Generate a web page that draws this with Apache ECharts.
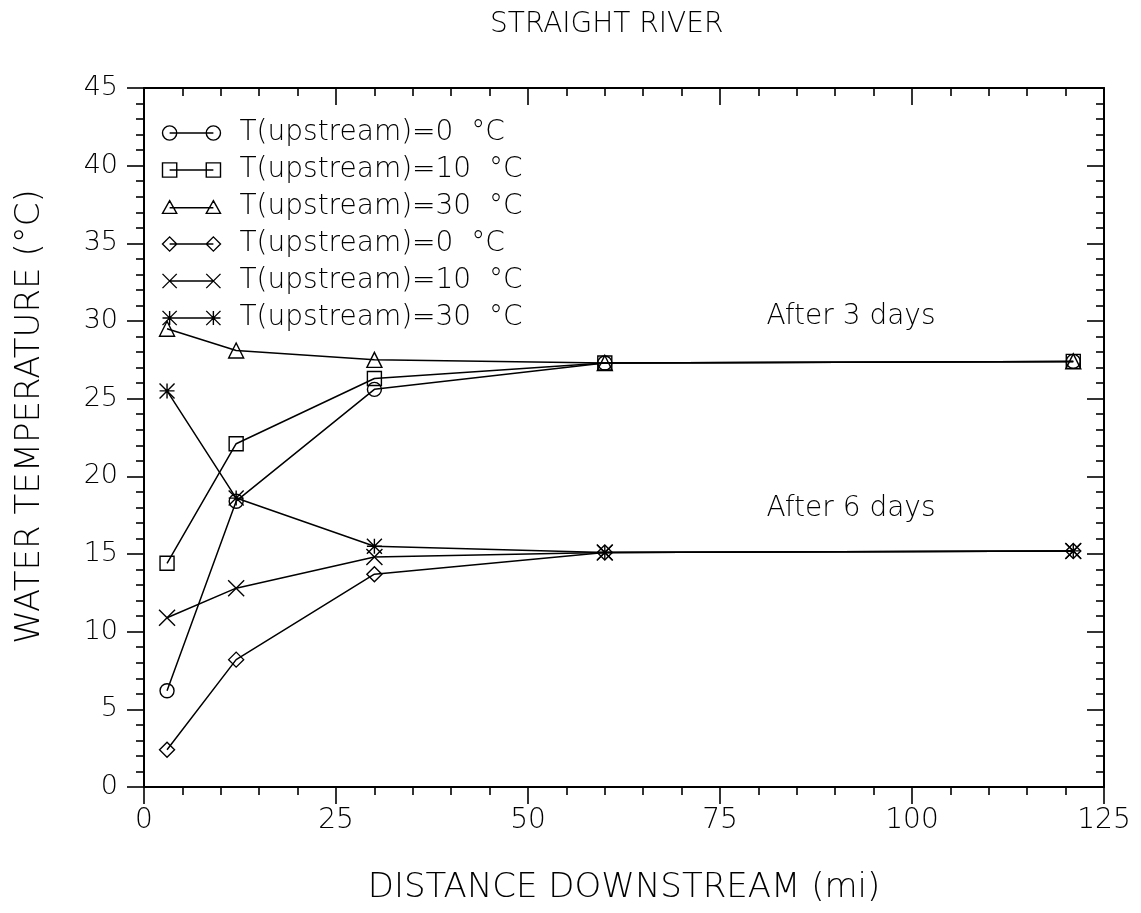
<!DOCTYPE html>
<html>
<head>
<meta charset="utf-8">
<script src="https://cdn.jsdelivr.net/npm/echarts/dist/echarts.min.js"></script>
<style>
  html, body { margin: 0; padding: 0; background: #fff; }
  #chart { width: 1141px; height: 913px; }
</style>
</head>
<body>
<div id="chart"></div>
<script>
  // distance downstream (mi)
  const distance = [3, 12, 30, 60, 121];
  // after 3 days
  const t0After3 = [6.2, 18.4, 25.6, 27.3, 27.4];
  const t10After3 = [14.4, 22.1, 26.3, 27.3, 27.4];
  const t30After3 = [29.5, 28.1, 27.5, 27.3, 27.4];
  // after 6 days
  const t0After6 = [2.4, 8.2, 13.7, 15.1, 15.2];
  const t10After6 = [10.9, 12.8, 14.8, 15.1, 15.2];
  const t30After6 = [25.5, 18.6, 15.5, 15.1, 15.2];

  const legendLabels = [
    'T(upstream)=0  °C', 'T(upstream)=10  °C', 'T(upstream)=30  °C',
    'T(upstream)=0  °C', 'T(upstream)=10  °C', 'T(upstream)=30  °C'
  ];
  const markerKinds = ['circle', 'square', 'triangle', 'diamond', 'cross', 'asterisk'];
  const seriesValues = [t0After3, t10After3, t30After3, t0After6, t10After6, t30After6];

  const thin = 'DejaVu Sans';

  // outline path for one marker centred at cx,cy with half size r
  function marker(kind, cx, cy, r) {
    switch (kind) {
      case 'circle':
        return `M${cx + r},${cy} A${r},${r} 0 1,1 ${cx - r},${cy} A${r},${r} 0 1,1 ${cx + r},${cy} Z`;
      case 'square':
        return `M${cx - r},${cy - r} L${cx + r},${cy - r} L${cx + r},${cy + r} L${cx - r},${cy + r} Z`;
      case 'triangle':
        return `M${cx},${cy - r} L${cx + r},${cy + r * 0.8} L${cx - r},${cy + r * 0.8} Z`;
      case 'diamond':
        return `M${cx},${cy - r} L${cx + r},${cy} L${cx},${cy + r} L${cx - r},${cy} Z`;
      case 'cross':
        return `M${cx - r},${cy - r} L${cx + r},${cy + r} M${cx + r},${cy - r} L${cx - r},${cy + r}`;
      default:
        return `M${cx - r},${cy - r} L${cx + r},${cy + r} M${cx + r},${cy - r} L${cx - r},${cy + r} ` +
          `M${cx},${cy - r} L${cx},${cy + r} M${cx - r},${cy} L${cx + r},${cy}`;
    }
  }
  function legendIcon(kind) {
    return 'path://' + marker(kind, 7.5, 7.5, 7) + ' M7.5,7.5 L50.5,7.5 ' + marker(kind, 50.5, 7.5, 7);
  }
  const symbolSizes = { circle: 14, square: 14, triangle: 15, diamond: 15, cross: 16, asterisk: 15 };

  const series = seriesValues.map((vals, i) => ({
    name: 's' + i,
    type: 'line',
    data: distance.map((d, j) => [d, vals[j]]),
    symbol: 'path://' + marker(markerKinds[i], 10, 10, 10),
    symbolSize: symbolSizes[markerKinds[i]],
    itemStyle: { color: 'none', borderColor: '#000', borderWidth: 1.4 },
    lineStyle: { color: '#000', width: 1.5 },
    emphasis: { disabled: true },
    silent: true
  }));

  const chart = echarts.init(document.getElementById('chart'));
  const tickStyle = { color: '#000', width: 1.6 };
  chart.setOption({
    animation: false,
    backgroundColor: '#fff',
    title: {
      text: 'STRAIGHT RIVER',
      left: 485,
      top: 6,
      textStyle: { fontFamily: thin, fontWeight: 200, fontSize: 28, color: '#000' }
    },
    legend: {
      orient: 'vertical',
      left: 155,
      top: 113,
      itemWidth: 58,
      itemHeight: 15,
      itemGap: 7,
      selectedMode: false,
      data: series.map((s, i) => ({ name: s.name, icon: legendIcon(markerKinds[i]) })),
      formatter: name => legendLabels[+name.slice(1)],
      itemStyle: { color: 'none', borderColor: '#000', borderWidth: 1.4 },
      textStyle: {
        fontFamily: thin, fontWeight: 200, fontSize: 28, lineHeight: 30,
        color: '#000', padding: [0, 0, 0, 14]
      }
    },
    grid: { left: 144, right: 37, top: 88, bottom: 126, outerBoundsMode: 'none' },
    xAxis: [{
      type: 'value', min: 0, max: 125, interval: 25,
      name: 'DISTANCE DOWNSTREAM (mi)',
      nameLocation: 'middle', nameGap: 84,
      nameTextStyle: { fontFamily: thin, fontWeight: 200, fontSize: 34, color: '#000' },
      axisLine: { show: true, onZero: false, lineStyle: { color: '#000', width: 2 } },
      axisTick: { show: true, length: 17, lineStyle: tickStyle },
      minorTick: { show: true, splitNumber: 5, length: 8, lineStyle: tickStyle },
      axisLabel: { margin: 20, fontFamily: thin, fontWeight: 200, fontSize: 28, color: '#000' },
      splitLine: { show: false }
    }, {
      type: 'value', min: 0, max: 125, interval: 25, position: 'top',
      axisLine: { show: true, onZero: false, lineStyle: { color: '#000', width: 2 } },
      axisTick: { show: true, inside: true, length: 17, lineStyle: tickStyle },
      minorTick: { show: true, splitNumber: 5, length: 8, lineStyle: tickStyle },
      axisLabel: { show: false },
      splitLine: { show: false }
    }],
    yAxis: [{
      type: 'value', min: 0, max: 45, interval: 5,
      name: 'WATER TEMPERATURE (°C)',
      nameLocation: 'middle', nameGap: 97,
      nameTextStyle: { fontFamily: thin, fontWeight: 200, fontSize: 34, color: '#000', padding: [0, 0, 0, 42] },
      axisLine: { show: true, onZero: false, lineStyle: { color: '#000', width: 2 } },
      axisTick: { show: true, length: 17, lineStyle: tickStyle },
      minorTick: { show: true, splitNumber: 5, length: 8, lineStyle: tickStyle },
      axisLabel: { margin: 26, fontFamily: thin, fontWeight: 200, fontSize: 27, color: '#000' },
      splitLine: { show: false }
    }, {
      type: 'value', min: 0, max: 45, interval: 5, position: 'right',
      axisLine: { show: true, onZero: false, lineStyle: { color: '#000', width: 2 } },
      axisTick: { show: true, inside: true, length: 17, lineStyle: tickStyle },
      minorTick: { show: true, splitNumber: 5, length: 8, lineStyle: tickStyle },
      axisLabel: { show: false },
      splitLine: { show: false }
    }],
    graphic: [
      {
        type: 'text', x: 851, y: 317,
        style: { text: 'After 3 days', font: '200 28px "DejaVu Sans"', fill: '#000', textAlign: 'center', textVerticalAlign: 'middle' }
      },
      {
        type: 'text', x: 851, y: 509,
        style: { text: 'After 6 days', font: '200 28px "DejaVu Sans"', fill: '#000', textAlign: 'center', textVerticalAlign: 'middle' }
      }
    ],
    series: series
  });
</script>
</body>
</html>
